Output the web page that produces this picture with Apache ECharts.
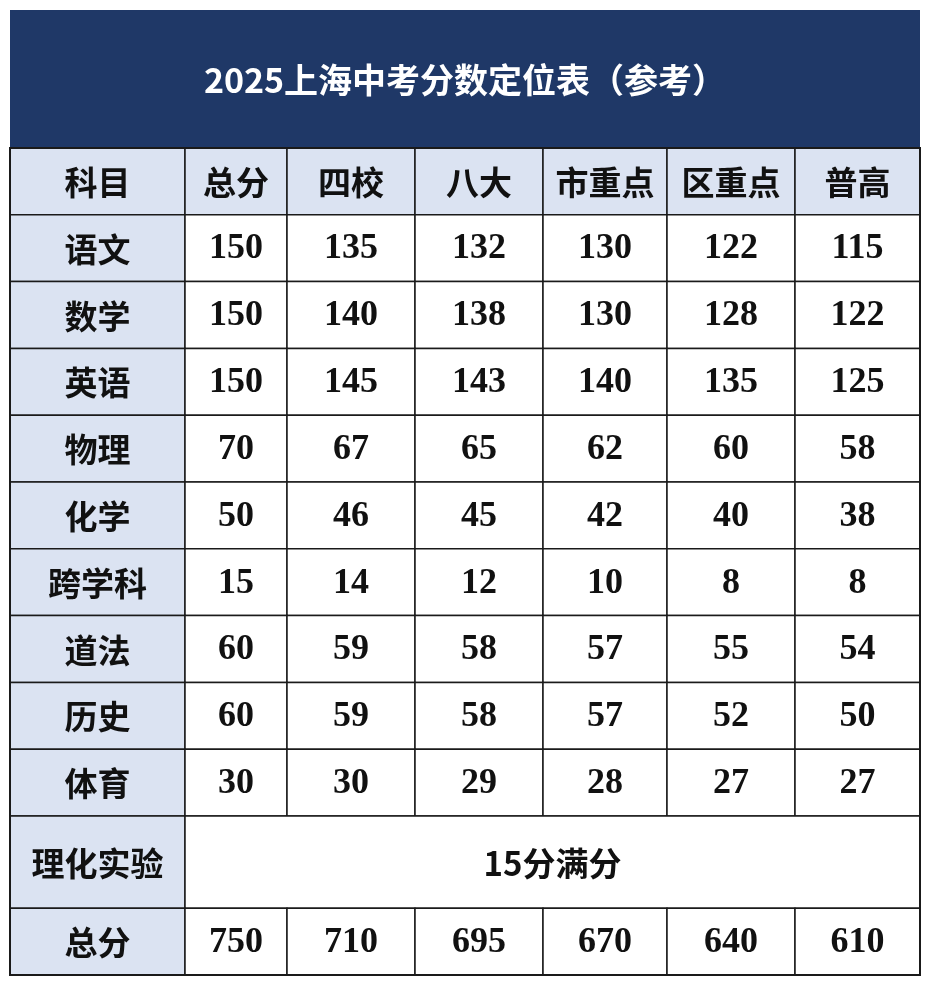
<!DOCTYPE html>
<html><head><meta charset="utf-8">
<script src="https://cdn.jsdelivr.net/npm/echarts@6/dist/echarts.min.js"></script>
<style>html,body{margin:0;padding:0;background:#fff}#c{width:936px;height:992px}</style>
</head><body><div id="c"></div>
<script>
const title = '2025上海中考分数定位表（参考）';
const headers = ['科目','总分','四校','八大','市重点','区重点','普高'];
const subjects = ['语文','数学','英语','物理','化学','跨学科','道法','历史','体育'];
const scores = [
  [150,135,132,130,122,115],
  [150,140,138,130,128,122],
  [150,145,143,140,135,125],
  [70,67,65,62,60,58],
  [50,46,45,42,40,38],
  [15,14,12,10,8,8],
  [60,59,58,57,55,54],
  [60,59,58,57,52,50],
  [30,30,29,28,27,27]
];
const labLabel = '理化实验';
const labText = '15分满分';
const totalLabel = '总分';
const totals = [750,710,695,670,640,610];

// layout
const colEdges = [0,175,277,405,533,657,785,910];
const rowEdges = [0,1,2,3,4,5,6,7,8,9,10,11.38,12.38];
const headFill = '#dbe3f2', white = '#ffffff';
const cells = [];
function add(c0,c1,r0,r1,text,fill,isNum){cells.push([colEdges[c0],colEdges[c1],rowEdges[r0],rowEdges[r1],String(text),fill,isNum?1:0]);}
headers.forEach((h,i)=>add(i,i+1,0,1,h,headFill,0));
subjects.forEach((s,r)=>{add(0,1,r+1,r+2,s,headFill,0);scores[r].forEach((v,c)=>add(c+1,c+2,r+1,r+2,v,white,1));});
add(0,1,10,11,labLabel,headFill,0);
add(1,7,10,11,labText,white,0);
add(0,1,11,12,totalLabel,headFill,0);
totals.forEach((v,c)=>add(c+1,c+2,11,12,v,white,1));

const chart = echarts.init(document.getElementById('c'));
chart.setOption({
  animation:false,
  graphic:[
    {type:'rect',shape:{x:10,y:10,width:910,height:138},style:{fill:'#1f3867'}},
    {type:'text',x:465,y:80,style:{text:title,fill:'#fff',font:'bold 34px "Noto Sans CJK SC"',textAlign:'center',textVerticalAlign:'middle'}},
    {type:'rect',shape:{x:10,y:148,width:910,height:827},style:{fill:'none',stroke:'#1a1a1a',lineWidth:2},z:100}
  ],
  grid:{left:10,right:16,top:148,bottom:17},
  xAxis:{type:'value',min:0,max:910,show:false},
  yAxis:{type:'value',min:0,max:12.38,inverse:true,show:false},
  series:[{
    type:'custom',
    data:cells,
    renderItem:(params,api)=>{
      const p0=api.coord([api.value(0),api.value(2)]);
      const p1=api.coord([api.value(1),api.value(3)]);
      const isNum=api.value(6)===1;
      const txt=cells[params.dataIndex][4];
      return {type:'group',children:[
        {type:'rect',shape:{x:p0[0],y:p0[1],width:p1[0]-p0[0],height:p1[1]-p0[1]},style:{fill:cells[params.dataIndex][5],stroke:'#1a1a1a',lineWidth:1.5}},
        {type:'text',x:(p0[0]+p1[0])/2,y:(p0[1]+p1[1])/2+1,style:{text:txt,fill:'#111',
          font:isNum?'bold 36px "Liberation Serif"':'bold 33px "Noto Sans CJK SC"',textAlign:'center',textVerticalAlign:'middle'}}
      ]};
    }
  }]
});
</script></body></html>
